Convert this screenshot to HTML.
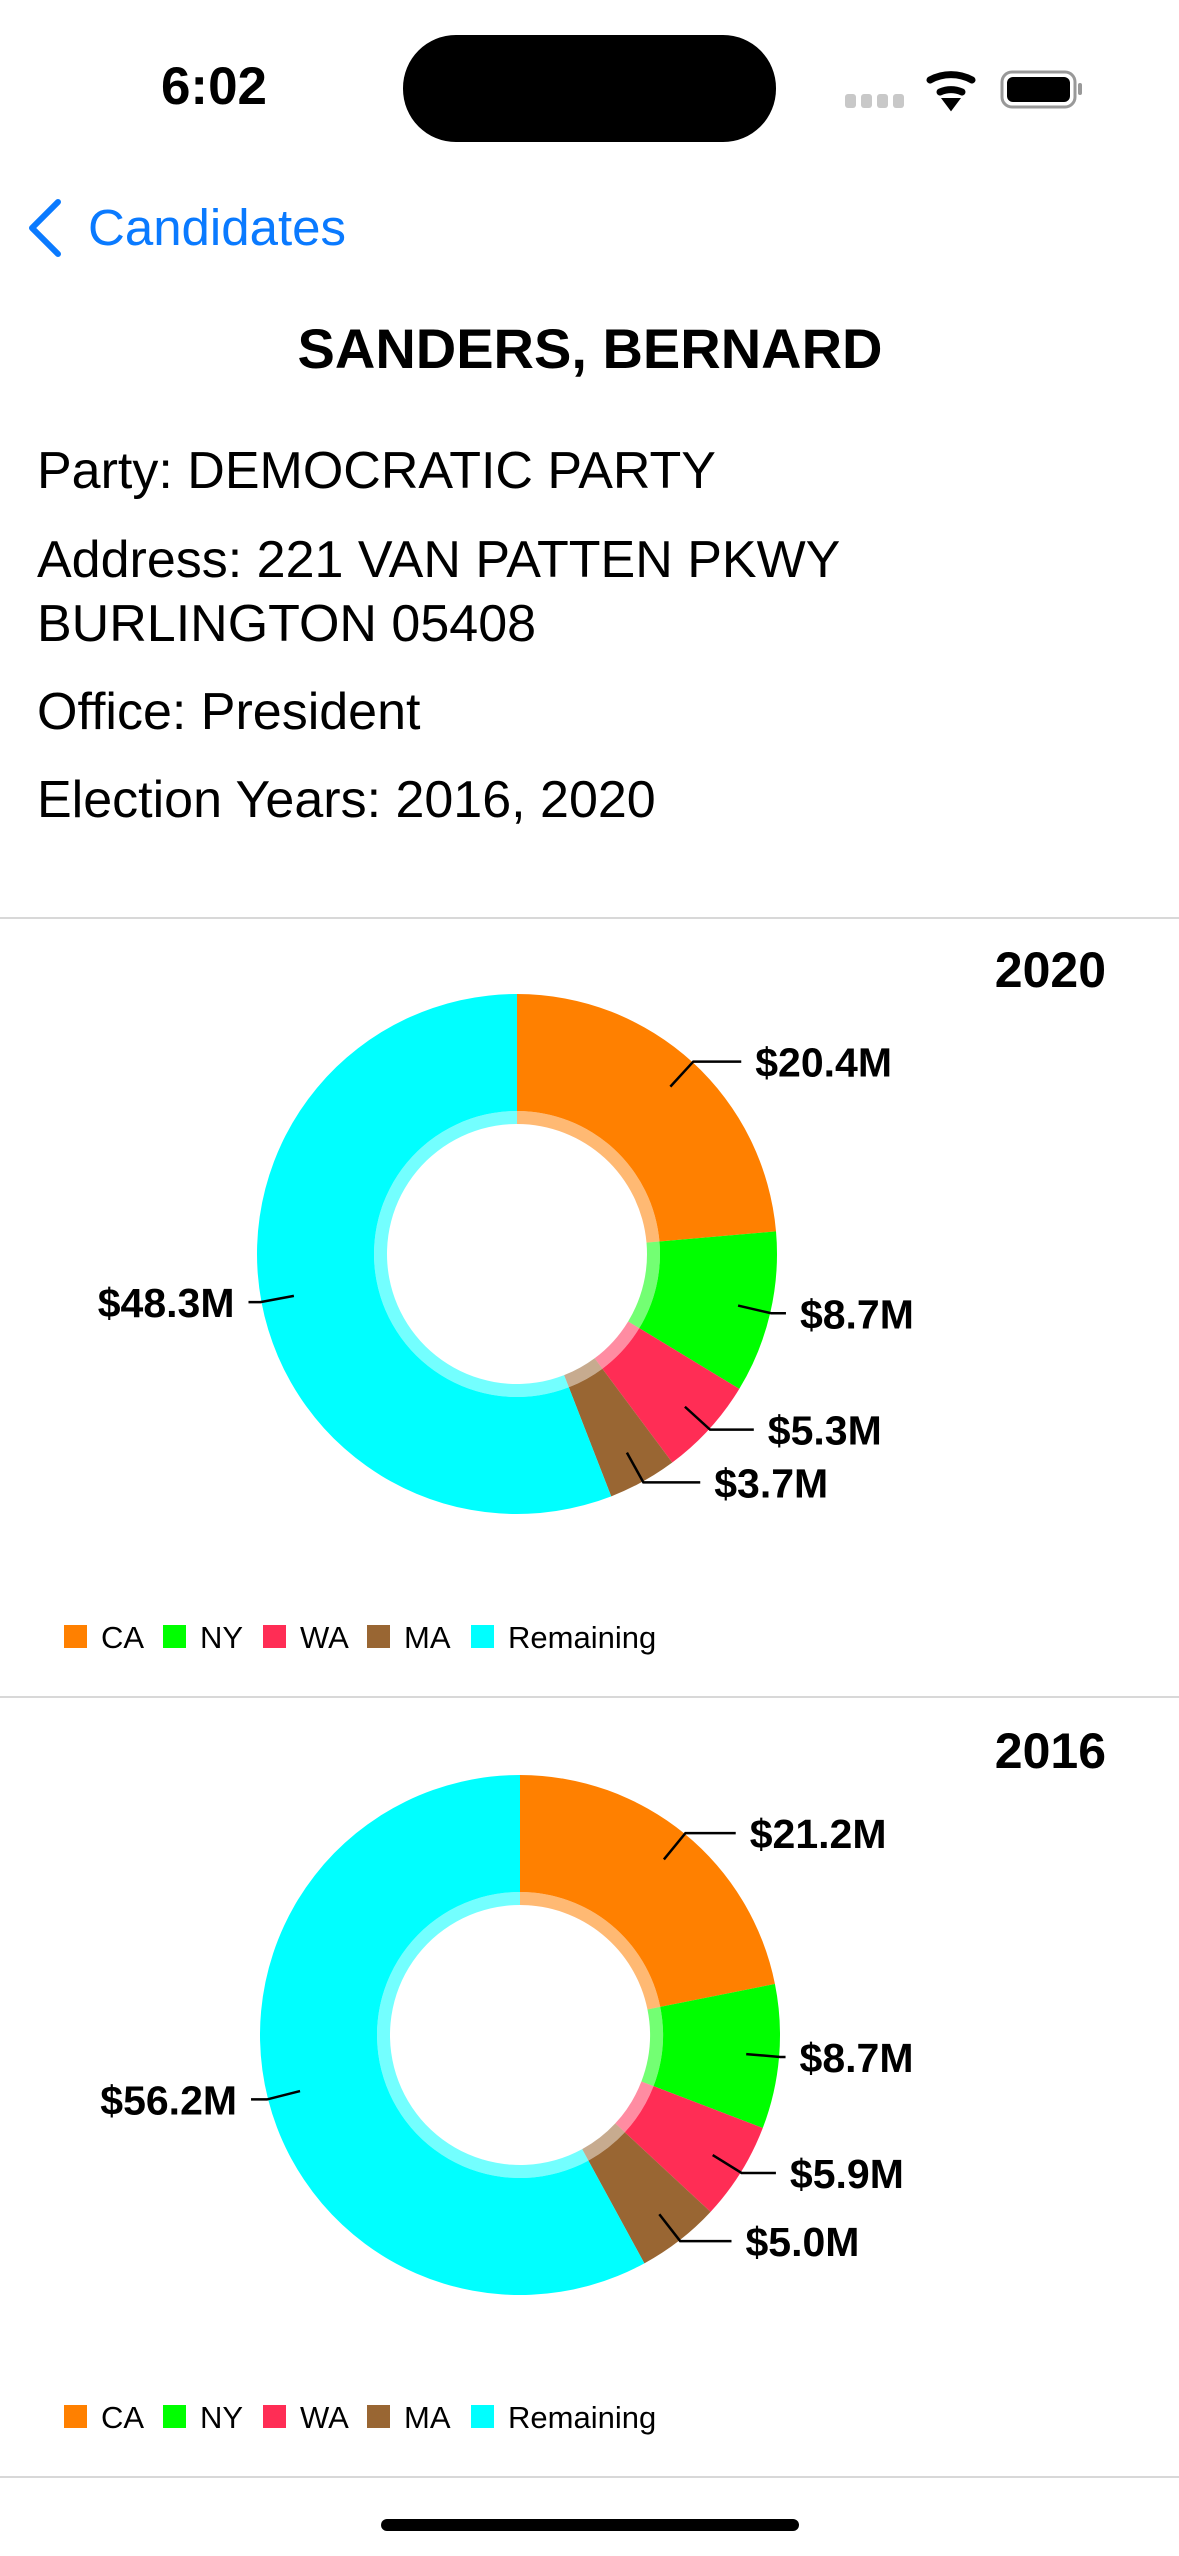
<!DOCTYPE html>
<html><head><meta charset="utf-8">
<style>
html,body{margin:0;padding:0;background:#fff;}
body{width:1179px;height:2556px;overflow:hidden;font-family:"Liberation Sans",sans-serif;}
svg{display:block}
</style></head>
<body>
<svg id="page" width="1179" height="2556" viewBox="0 0 1179 2556" xmlns="http://www.w3.org/2000/svg" font-family="Liberation Sans, sans-serif">
  <g>
    <text x="214" y="104" font-size="53" font-weight="bold" text-anchor="middle">6:02</text>
    <rect x="403" y="35" width="373" height="107" rx="53" fill="#000"/>
    <g fill="#c8c8c8">
      <rect x="845" y="94" width="11" height="14" rx="3"/><rect x="861" y="94" width="11" height="14" rx="3"/>
      <rect x="877" y="94" width="11" height="14" rx="3"/><rect x="893" y="94" width="11" height="14" rx="3"/>
    </g>
    <g fill="none" stroke="#000" stroke-width="7" stroke-linecap="round">
      <path d="M930 80 A44 44 0 0 1 972 80"/><path d="M940 92 A28 28 0 0 1 962 92"/>
      <path d="M945 100 L951 108 L957 100 Z" fill="#000" stroke-width="4"/>
    </g>
    <g>
      <rect x="1002" y="72" width="73" height="35" rx="10" fill="none" stroke="#999" stroke-width="3"/>
      <rect x="1007" y="77" width="63" height="25" rx="6" fill="#000"/>
      <rect x="1078" y="83" width="4" height="12" rx="2" fill="#999"/>
    </g>
  </g>
  <g>
    <path d="M58 202 L32 228 L58 254" fill="none" stroke="#0a7aff" stroke-width="6" stroke-linecap="round" stroke-linejoin="round"/>
    <text x="88" y="245" font-size="51" fill="#0a7aff">Candidates</text>
  </g>
  <text x="590" y="368" font-size="56" font-weight="bold" text-anchor="middle">SANDERS, BERNARD</text>
  <g font-size="52" fill="#000">
    <text x="37" y="488">Party: DEMOCRATIC PARTY</text>
    <text x="37" y="577">Address: 221 VAN PATTEN PKWY</text>
    <text x="37" y="641">BURLINGTON 05408</text>
    <text x="37" y="729">Office: President</text>
    <text x="37" y="817">Election Years: 2016, 2020</text>
  </g>
  <rect x="0" y="917" width="1179" height="2" fill="#d8d8d8"/>
  <rect x="0" y="1696" width="1179" height="2" fill="#d8d8d8"/>
  <rect x="0" y="2476" width="1179" height="2" fill="#d8d8d8"/>
  <text x="1106" y="987" font-size="50" font-weight="bold" text-anchor="end">2020</text>
  <text x="1106" y="1768" font-size="50" font-weight="bold" text-anchor="end">2016</text>
  <g id="chart2020"></g>
  <g id="chart2016"></g>
  <g id="legend2020"></g>
  <g id="legend2016"></g>
  <rect x="381" y="2519" width="418" height="12" rx="6" fill="#000"/>
</svg>
<script>
const categories = ["CA", "NY", "WA", "MA", "Remaining"];
const colors = ["#ff8000", "#00ff00", "#ff2d55", "#996633", "#00ffff"];
const values2020 = [20.4, 8.7, 5.3, 3.7, 48.3];
const values2016 = [21.2, 8.7, 5.9, 5.0, 56.2];
const legendX = [64, 163, 263, 367, 471];

const NS = "http://www.w3.org/2000/svg";
function mk(tag, attrs, parent) {
  const e = document.createElementNS(NS, tag);
  for (const k in attrs) e.setAttribute(k, attrs[k]);
  parent.appendChild(e);
  return e;
}
function pt(cx, cy, r, a) { return [cx + r * Math.sin(a), cy - r * Math.cos(a)]; }
function arc(cx, cy, r0, r1, a0, a1) {
  const large = (a1 - a0) > Math.PI ? 1 : 0;
  const p0 = pt(cx, cy, r1, a0), p1 = pt(cx, cy, r1, a1), p2 = pt(cx, cy, r0, a1), p3 = pt(cx, cy, r0, a0);
  return `M${p0[0]} ${p0[1]} A${r1} ${r1} 0 ${large} 1 ${p1[0]} ${p1[1]} L${p2[0]} ${p2[1]} A${r0} ${r0} 0 ${large} 0 ${p3[0]} ${p3[1]} Z`;
}
function donut(gid, values, cx, cy) {
  const g = document.getElementById(gid);
  const total = values.reduce((a, b) => a + b, 0);
  const R = 260, Rin = 143, Rhole = 130;
  let a = 0;
  values.forEach((v, i) => {
    const a1 = a + v / total * Math.PI * 2;
    const s = mk("path", { d: arc(cx, cy, Rin, R, a, a1), fill: colors[i] }, g);
    
    
    const ring = mk("path", { d: arc(cx, cy, Rhole, Rin, a, a1), fill: colors[i], "fill-opacity": "0.55" }, g);
    
    
    const m = (a + a1) / 2;
    const p1 = pt(cx, cy, 227, m), p2 = pt(cx, cy, 261, m);
    const right = Math.sin(m) >= 0;
    const h = Math.max(4, 65 * Math.abs(Math.cos(m)));
    const x3 = p2[0] + (right ? h : -h);
    const ln = mk("polyline", { points: `${p1[0]},${p1[1]} ${p2[0]},${p2[1]} ${x3},${p2[1]}`, fill: "none", stroke: "#000", "stroke-width": 2.5 }, g);
    
    
    const t = mk("text", { x: x3 + (right ? 14 : -14), y: p2[1] + 15, "font-size": 41, "font-weight": "bold", "text-anchor": right ? "start" : "end" }, g);
    t.textContent = "$" + v.toFixed(1) + "M";
    
    
    a = a1;
  });
}
function legend(gid, y) {
  const g = document.getElementById(gid);
  categories.forEach((c, i) => {
    const r = mk("rect", { x: legendX[i], y: y - 12, width: 23, height: 23, fill: colors[i] }, g);
    
    
    const t = mk("text", { x: legendX[i] + 37, y: y + 11, "font-size": 31 }, g);
    t.textContent = c;
    
    
  });
}
donut("chart2020", values2020, 517, 1254);
donut("chart2016", values2016, 520, 2035);
legend("legend2020", 1637);
legend("legend2016", 2417);
</script>
</body></html>
